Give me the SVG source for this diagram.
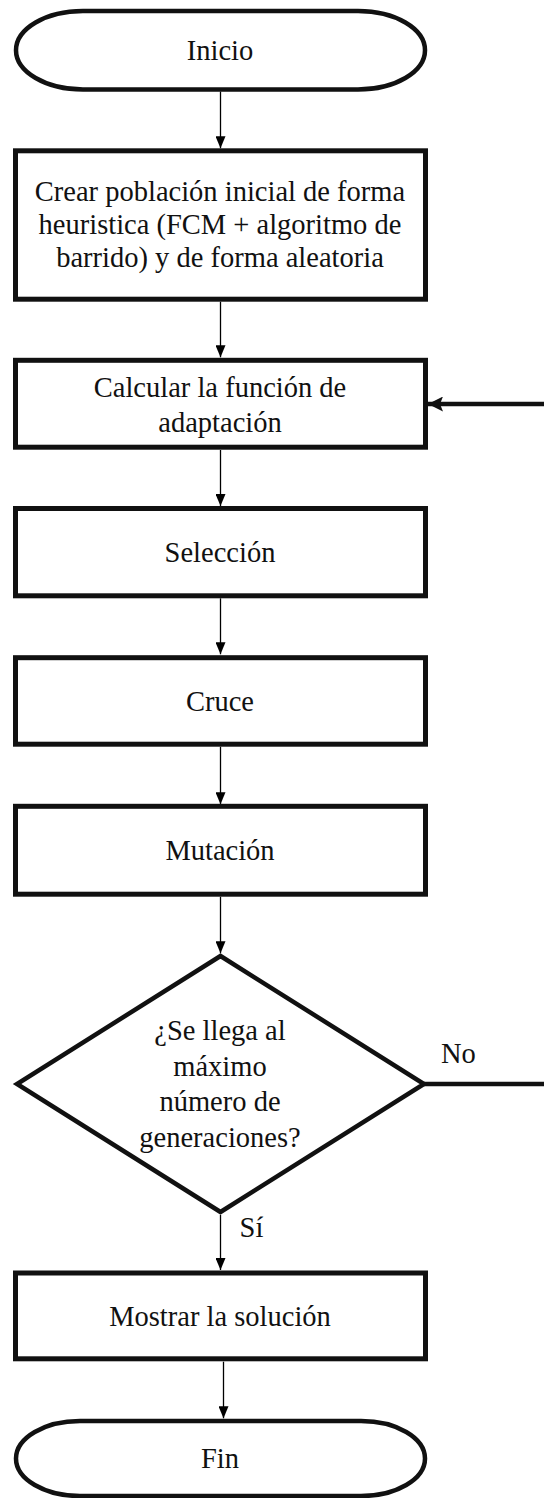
<svg xmlns="http://www.w3.org/2000/svg" width="544" height="1498" viewBox="0 0 544 1498">
<style>
  .box { fill: #fff; stroke: #111; stroke-width: 5; }
  .term { fill: #fff; stroke: #111; stroke-width: 4.5; }
  .dia { fill: #fff; stroke: #111; stroke-width: 4.5; stroke-linejoin: miter; }
  .t { font-size: 28.5px; fill: #111; text-anchor: middle; }
  .lbl { font-size: 28.5px; fill: #111; }
  .thin { stroke: #000; stroke-width: 1.3; fill: none; marker-end: url(#ah); }
  .thick { stroke: #111; stroke-width: 4.5; fill: none; }
</style>
<defs>
  <marker id="ah" viewBox="0 0 12 10" refX="12" refY="5" markerWidth="12" markerHeight="10" markerUnits="userSpaceOnUse" orient="auto">
    <path d="M0,0 L12,5 L0,10 z" fill="#000"/>
  </marker>
  <marker id="ahBig" viewBox="0 0 15 15" refX="15" refY="7.5" markerWidth="15" markerHeight="15" markerUnits="userSpaceOnUse" orient="auto">
    <path d="M0,0 L15,7.5 L0,15 L3,7.5 z" fill="#111"/>
  </marker>
</defs>

<g id="connectors" font-family="Liberation Serif, serif">
  <line class="thin" x1="220.5" y1="91.5" x2="220.5" y2="148.3"/>
  <line class="thin" x1="220.5" y1="301.7" x2="220.5" y2="357.3"/>
  <line class="thin" x1="220.5" y1="450" x2="220.5" y2="506"/>
  <line class="thin" x1="220.5" y1="598.3" x2="220.5" y2="654.3"/>
  <line class="thin" x1="220.5" y1="746.7" x2="220.5" y2="804.3"/>
  <line class="thin" x1="220.5" y1="896.7" x2="220.5" y2="953.3"/>
  <line class="thin" x1="220.5" y1="1215" x2="220.5" y2="1270"/>
  <line class="thin" x1="223.5" y1="1361.7" x2="223.5" y2="1418.3"/>
  <line class="thick" x1="424" y1="1084" x2="544" y2="1084"/>
  <line class="thick" x1="544" y1="404" x2="428" y2="404" stroke-width="4" marker-end="url(#ahBig)"/>
  <text class="lbl" x="441" y="1063.3">No</text>
  <text class="lbl" x="239.6" y="1236.7">Sí</text>
</g>

<g id="nodes" font-family="Liberation Serif, serif">
<g id="inicio">
  <path class="term" d="M83,11 H358 A67,39.25 0 0 1 358,89.5 H83 A67,39.25 0 0 1 83,11 Z"/>
  <text class="t" x="220" y="60">Inicio</text>
</g>

<g id="crear">
  <rect class="box" x="15.5" y="150.8" width="410" height="148.4"/>
  <text class="t" x="220" y="200.7">Crear población inicial de forma</text>
  <text class="t" x="220" y="234">heuristica (FCM + algoritmo de</text>
  <text class="t" x="220" y="267.3">barrido) y de forma aleatoria</text>
</g>

<g id="calcular">
  <rect class="box" x="15.5" y="360.3" width="410" height="86.9"/>
  <text class="t" x="220" y="396.5">Calcular la función de</text>
  <text class="t" x="220" y="431.5">adaptación</text>
</g>

<g id="seleccion">
  <rect class="box" x="15.5" y="508.5" width="410" height="87.3"/>
  <text class="t" x="220" y="561.7">Selección</text>
</g>

<g id="cruce">
  <rect class="box" x="15.5" y="657.7" width="410" height="86.5"/>
  <text class="t" x="220" y="711">Cruce</text>
</g>

<g id="mutacion">
  <rect class="box" x="15.5" y="806.3" width="410" height="87.9"/>
  <text class="t" x="220" y="860">Mutación</text>
</g>

<g id="decision">
  <polygon class="dia" points="220.5,956 424,1084 220.5,1212 17,1084"/>
  <text class="t" x="220" y="1040">¿Se llega al</text>
  <text class="t" x="220" y="1076">máximo</text>
  <text class="t" x="220" y="1111">número de</text>
  <text class="t" x="220" y="1146.5">generaciones?</text>
</g>

<g id="mostrar">
  <rect class="box" x="15.5" y="1273" width="410" height="85.8"/>
  <text class="t" x="220" y="1325.5">Mostrar la solución</text>
</g>

<g id="fin">
  <path class="term" d="M80,1421 H361 A64,37.5 0 0 1 361,1496 H80 A64,37.5 0 0 1 80,1421 Z"/>
  <text class="t" x="220" y="1468">Fin</text>
</g>
</g>
</svg>
